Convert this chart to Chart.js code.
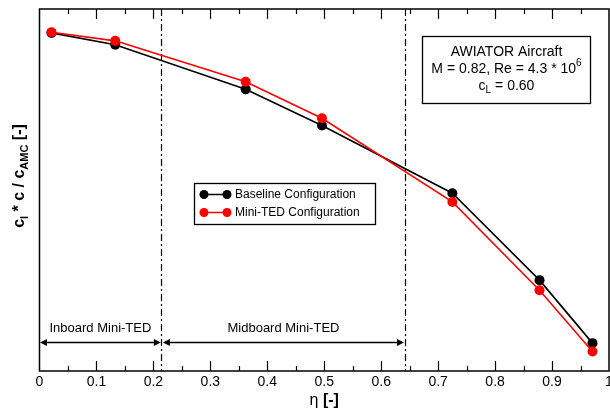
<!DOCTYPE html>
<html>
<head>
<meta charset="utf-8">
<script src="https://cdn.jsdelivr.net/npm/chart.js@4/dist/chart.umd.min.js"></script>
<style>
  html, body { margin: 0; padding: 0; background: #fff; overflow: hidden; }
  #wrap { width: 610px; height: 410px; overflow: hidden; }
  #c { display: block; }
</style>
</head>
<body>
<div id="wrap"><canvas id="c" width="616" height="410"></canvas></div>
<script>
// Spanwise station (eta) and sectional load distribution
const eta = [0.021, 0.133, 0.362, 0.496, 0.725, 0.878, 0.971];
const baseline = [0.934, 0.901, 0.778, 0.678, 0.491, 0.251, 0.077];
const miniTed = [0.936, 0.912, 0.799, 0.698, 0.467, 0.223, 0.054];
const seriesLabels = ['Baseline Configuration', 'Mini-TED Configuration'];

// Mini-TED span segments (boundaries in eta) and their names
const tedBounds = [0, 0.214, 0.641];
const tedNames = ['Inboard Mini-TED', 'Midboard Mini-TED'];
const tedArrowLevel = 0.080;
const tedTextLevel = 0.117;

// x tick values (labels every 0.1, minor marks at 0.05)
const xTickStep = 0.05;

const FONT = '"Liberation Sans", Arial, Helvetica, sans-serif';

// draw a sequence of text runs (for sub/superscripts), centred at x
function drawRuns(ctx, runs, cx, cy) {
  let total = 0;
  runs.forEach(r => {
    ctx.font = (r.bold ? 'bold ' : '') + r.size + 'px ' + FONT;
    r.w = ctx.measureText(r.t).width;
    total += r.w;
  });
  let x = cx - total / 2;
  ctx.textAlign = 'left';
  ctx.textBaseline = 'middle';
  runs.forEach(r => {
    ctx.font = (r.bold ? 'bold ' : '') + r.size + 'px ' + FONT;
    ctx.fillText(r.t, x, cy + (r.dy || 0));
    x += r.w;
  });
}

const decor = {
  id: 'decor',
  beforeDatasetsDraw(chart) {
    const { ctx, chartArea: a, scales: { x, y } } = chart;
    ctx.save();
    // dash-dot segment boundaries
    ctx.strokeStyle = '#000';
    ctx.lineWidth = 1.2;
    ctx.setLineDash([7, 3, 2, 3]);
    tedBounds.slice(1).forEach(b => {
      const px = Math.round(x.getPixelForValue(b)) + 0.5;
      ctx.beginPath();
      ctx.moveTo(px, a.top);
      ctx.lineTo(px, a.bottom);
      ctx.stroke();
    });
    ctx.setLineDash([]);

    // double-headed arrows with segment names
    const ay = Math.round(y.getPixelForValue(tedArrowLevel)) + 0.5;
    const ty = y.getPixelForValue(tedTextLevel);
    ctx.fillStyle = '#000';
    for (let i = 0; i < tedNames.length; i++) {
      const x0 = x.getPixelForValue(tedBounds[i]) + (i === 0 ? 0.5 : 1.5);
      const x1 = x.getPixelForValue(tedBounds[i + 1]) - 0.5;
      ctx.lineWidth = 1.3;
      ctx.beginPath();
      ctx.moveTo(x0 + 3, ay);
      ctx.lineTo(x1 - 3, ay);
      ctx.stroke();
      const head = (tip, dir) => {
        ctx.beginPath();
        ctx.moveTo(tip, ay);
        ctx.lineTo(tip + dir * 7, ay - 3.5);
        ctx.lineTo(tip + dir * 7, ay + 3.5);
        ctx.closePath();
        ctx.fill();
      };
      head(x0, 1);
      head(x1, -1);
      ctx.font = '13px ' + FONT;
      ctx.textAlign = 'center';
      ctx.textBaseline = 'middle';
      ctx.fillText(tedNames[i], (x0 + x1) / 2, ty);
    }
    ctx.restore();
  },
  afterDraw(chart) {
    const { ctx, chartArea: a, scales: { x } } = chart;
    ctx.save();
    ctx.strokeStyle = '#000';
    ctx.fillStyle = '#000';

    // inward tick marks on top and bottom edges
    ctx.lineWidth = 1.2;
    x.ticks.forEach(t => {
      const v = t.value;
      const major = Math.abs(v * 10 - Math.round(v * 10)) < 1e-6;
      const len = major ? 10 : 5;
      const px = Math.round(x.getPixelForValue(v)) + 0.5;
      if (px <= a.left + 1 || px >= a.right - 1) return;
      ctx.beginPath();
      ctx.moveTo(px, a.bottom);
      ctx.lineTo(px, a.bottom - len);
      ctx.moveTo(px, a.top);
      ctx.lineTo(px, a.top + len);
      ctx.stroke();
    });

    // plot frame
    ctx.lineWidth = 1.5;
    ctx.strokeRect(a.left, a.top, a.right - a.left, a.bottom - a.top);

    // axis titles
    drawRuns(ctx, [
      { t: 'η', size: 16 },
      { t: ' [-]', size: 16, bold: true }
    ], (a.left + a.right) / 2, 401);

    ctx.save();
    ctx.translate(20, 176);
    ctx.rotate(-Math.PI / 2);
    drawRuns(ctx, [
      { t: 'c', size: 16, bold: true },
      { t: 'l', size: 11, bold: true, dy: 5 },
      { t: ' * c / c', size: 16, bold: true },
      { t: 'AMC', size: 11, bold: true, dy: 5 },
      { t: ' [-]', size: 16, bold: true }
    ], 0, 0);
    ctx.restore();

    // legend box
    const lx = 194.5, ly = 183.5, lw = 181, lh = 41;
    ctx.fillStyle = '#fff';
    ctx.fillRect(lx, ly, lw, lh);
    ctx.lineWidth = 1.3;
    ctx.strokeStyle = '#000';
    ctx.strokeRect(lx, ly, lw, lh);
    const rowY = [194.5, 212.5];
    chart.data.datasets.forEach(ds => {
      const i = seriesLabels.indexOf(ds.label);
      const ry = rowY[i];
      ctx.strokeStyle = ds.borderColor;
      ctx.fillStyle = ds.backgroundColor;
      ctx.lineWidth = 1.5;
      ctx.beginPath();
      ctx.moveTo(204, ry);
      ctx.lineTo(227, ry);
      ctx.stroke();
      [204, 227].forEach(cx => {
        ctx.beginPath();
        ctx.arc(cx, ry, 4.5, 0, Math.PI * 2);
        ctx.fill();
      });
      ctx.fillStyle = '#000';
      ctx.font = '12px ' + FONT;
      ctx.textAlign = 'left';
      ctx.textBaseline = 'middle';
      ctx.fillText(ds.label, 235, ry);
    });

    // flight condition box
    const bx = 422.5, by = 36.5, bw = 168, bh = 67;
    ctx.strokeStyle = '#000';
    ctx.lineWidth = 1.3;
    ctx.strokeRect(bx, by, bw, bh);
    ctx.fillStyle = '#000';
    const bc = bx + bw / 2;
    drawRuns(ctx, [{ t: 'AWIATOR Aircraft', size: 14 }], bc, 52);
    drawRuns(ctx, [
      { t: 'M = 0.82, Re = 4.3 * 10', size: 14 },
      { t: '6', size: 10, dy: -6 }
    ], bc, 69.5);
    drawRuns(ctx, [
      { t: 'c', size: 14 },
      { t: 'L', size: 10, dy: 4 },
      { t: ' = 0.60', size: 14 }
    ], bc, 86.5);
    ctx.restore();
  }
};

const toPts = vals => vals.map((v, i) => ({ x: eta[i], y: v }));

new Chart(document.getElementById('c'), {
  type: 'line',
  data: {
    datasets: [
      {
        label: seriesLabels[0],
        data: toPts(baseline),
        borderColor: '#000000',
        backgroundColor: '#000000',
        borderWidth: 1.6,
        pointRadius: 5,
        pointBorderWidth: 0,
        pointBackgroundColor: '#000000',
        tension: 0,
        order: 1
      },
      {
        label: seriesLabels[1],
        data: toPts(miniTed),
        borderColor: '#ff0000',
        backgroundColor: '#ff0000',
        borderWidth: 1.6,
        pointRadius: 5,
        pointBorderWidth: 0,
        pointBackgroundColor: '#ff0000',
        tension: 0,
        order: 0
      }
    ]
  },
  options: {
    responsive: false,
    animation: false,
    events: [],
    layout: { padding: { left: 39.5, right: 7, top: 9, bottom: 0 } },
    plugins: { legend: { display: false }, tooltip: { enabled: false } },
    scales: {
      x: {
        type: 'linear',
        min: 0,
        max: 1,
        grid: { display: false, drawTicks: false },
        border: { display: false },
        ticks: {
          stepSize: xTickStep,
          autoSkip: false,
          maxRotation: 0,
          padding: 3,
          color: '#000',
          font: { family: FONT, size: 14 },
          callback: v => {
            const r = Math.round(v * 100) / 100;
            if (Math.abs(r * 10 - Math.round(r * 10)) > 1e-6) return '';
            return r === 0 ? '0' : (r === 1 ? '1' : r.toFixed(1));
          }
        },
        afterFit: s => { s.height = 39; }
      },
      y: {
        type: 'linear',
        min: 0,
        max: 1,
        display: false
      }
    }
  },
  plugins: [decor]
});
</script>
</body>
</html>
